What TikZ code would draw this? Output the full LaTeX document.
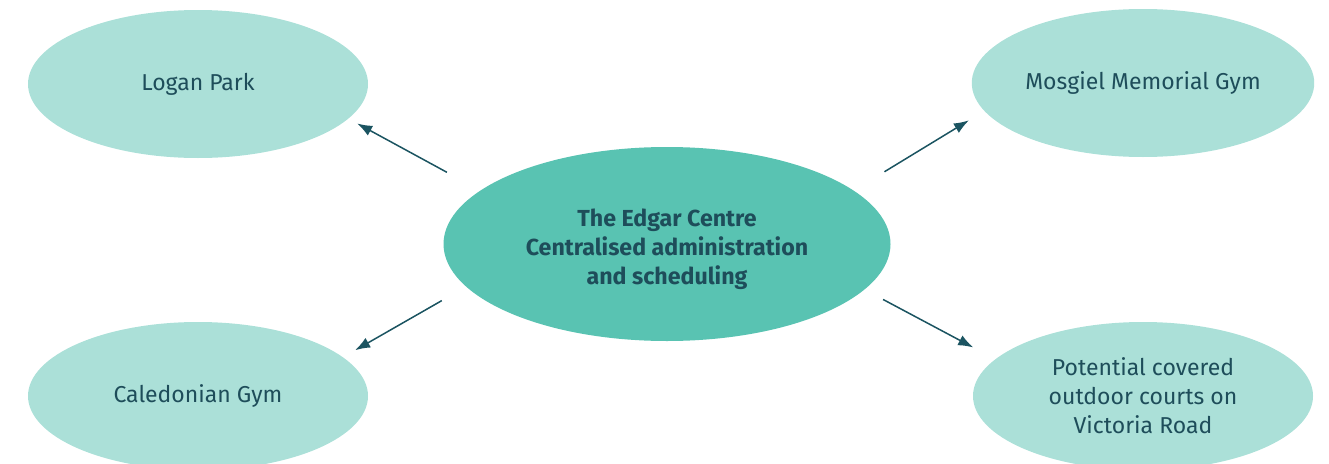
\documentclass[tikz,border=0pt]{standalone}
\usepackage{fontspec}
\setmainfont{Fira Sans}
\usepackage{tikz}
\usetikzlibrary{arrows.meta,shapes.geometric}

\definecolor{sitefill}{HTML}{ABE0D8}
\definecolor{hubfill}{HTML}{59C3B2}
\definecolor{inktext}{HTML}{1E4D5A}
\definecolor{inkline}{HTML}{1B5461}

\begin{document}
\begin{tikzpicture}[
    x=1pt, y=-1pt,
    every node/.style={ellipse,align=center,text=inktext,font=\fontsize{23}{29}\selectfont},
    site/.style={fill=sitefill,minimum width=340pt,minimum height=148pt},
    hub/.style={fill=hubfill,minimum width=447pt,minimum height=194pt,font=\fontsize{23.2}{29}\selectfont\bfseries},
    arrow/.style={-{Latex[length=15pt,width=11pt]},draw=inkline,fill=inkline,line width=1.5pt}
]
    \useasboundingbox (0,0) rectangle (1329,463);

    \node[hub] (edgar) at (667,244) {\rule{0pt}{28pt}The Edgar Centre\\Centralised administration\\and scheduling};

    \node[site] (logan) at (198,84) {Logan Park};
    \node[site] (mosgiel) at (1143,83) {Mosgiel Memorial Gym};
    \node[site] (caledonian) at (198,396) {Caledonian Gym};
    \node[site] (victoria) at (1143,396) {Potential covered\\outdoor courts on\\Victoria Road};

    % spokes leave a gap at both ellipses
    \draw[arrow,shorten <=38pt,shorten >=10pt] (edgar.164.5) -- (logan.347.3);
    \draw[arrow,shorten <=36pt,shorten >=18pt] (edgar.16.9) -- (mosgiel.190.5);
    \draw[arrow,shorten <=28pt,shorten >=14pt] (edgar.192.4) -- (caledonian.15.6);
    \draw[arrow,shorten <=21pt,shorten >=25pt] (edgar.347.3) -- (victoria.166.4);
\end{tikzpicture}
\end{document}
